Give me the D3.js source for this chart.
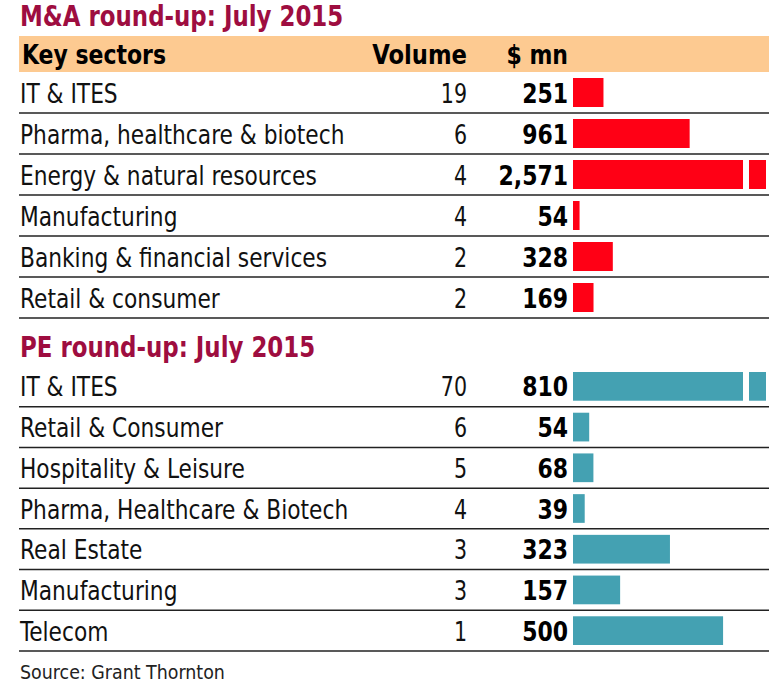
<!DOCTYPE html>
<html>
<head>
<meta charset="utf-8">
<script src="https://cdn.jsdelivr.net/npm/d3@7"></script>
<style>
  body { margin: 0; background: #fff; }
  text { font-family: "DejaVu Sans Condensed", "DejaVu Sans", sans-serif; }
</style>
</head>
<body>
<div id="chart"></div>
<script>
var maSectors = ["IT & ITES", "Pharma, healthcare & biotech", "Energy & natural resources",
  "Manufacturing", "Banking & financial services", "Retail & consumer"];
var maVolume = [19, 6, 4, 4, 2, 2];
var maValue = [251, 961, 2571, 54, 328, 169];

var peSectors = ["IT & ITES", "Retail & Consumer", "Hospitality & Leisure",
  "Pharma, Healthcare & Biotech", "Real Estate", "Manufacturing", "Telecom"];
var peVolume = [70, 6, 5, 4, 3, 3, 1];
var peValue = [810, 54, 68, 39, 323, 157, 500];

var width = 780, height = 683;
var left = 19, right = 769;
var volX = 467, valX = 568, barX = 573, barEnd = 766;

var svg = d3.select("#chart").append("svg")
  .attr("width", width)
  .attr("height", height);

// condensed text: squeeze horizontally around the anchor point
function label(sel, x, y, sx) {
  return sel.append("text")
    .attr("transform", "translate(" + x + "," + y + ") scale(" + sx + ",1)");
}

label(svg, 20, 26, 0.91)
  .attr("font-size", 28).attr("font-weight", "bold")
  .attr("fill", "#9e0d40")
  .text("M&A round-up: July 2015");

// header band
svg.append("rect")
  .attr("x", left).attr("y", 36)
  .attr("width", right - left).attr("height", 36)
  .attr("fill", "#fdca91");
label(svg, 22, 64, 0.94)
  .attr("font-size", 26).attr("font-weight", "bold").text("Key sectors");
label(svg, volX, 64, 0.97).attr("text-anchor", "end")
  .attr("font-size", 26).attr("font-weight", "bold").text("Volume");
label(svg, valX, 64, 0.94).attr("text-anchor", "end")
  .attr("font-size", 26).attr("font-weight", "bold").text("$ mn");

function drawSection(sectors, volume, value, y0, y1, maxVal, color) {
  var rows = sectors.map(function(s, i) { return {name: s, vol: volume[i], val: value[i]}; });
  var y = d3.scaleBand().domain(sectors).range([y0, y1]);
  var x = d3.scaleLinear().domain([0, maxVal]).range([0, barEnd - barX]).clamp(true);
  var gap = 6, stub = 17;
  var ty = y.bandwidth() / 2 + 10;

  var g = svg.append("g");
  var row = g.selectAll("g.row").data(rows).enter().append("g").attr("class", "row")
    .attr("transform", function(d) { return "translate(0," + y(d.name) + ")"; });

  row.append("line")
    .attr("x1", left).attr("x2", right)
    .attr("y1", y.bandwidth()).attr("y2", y.bandwidth())
    .attr("stroke", "#222").attr("stroke-width", 1.5);

  row.each(function(d) {
    var r = d3.select(this);
    label(r, 20, ty, 0.93)
      .attr("font-size", 26).attr("fill", "#111")
      .text(d.name);
    label(r, volX, ty, 0.88).attr("text-anchor", "end")
      .attr("font-size", 26).attr("fill", "#111")
      .text(d.vol);
    label(r, valX, ty, 0.94).attr("text-anchor", "end")
      .attr("font-size", 26).attr("font-weight", "bold").attr("fill", "#000")
      .text(d3.format(",")(d.val));
  });

  var bh = y.bandwidth() - 12;
  row.append("rect")
    .attr("x", barX).attr("y", 6)
    .attr("height", bh)
    .attr("width", function(d) {
      return d.val > maxVal ? x(maxVal) - stub - gap : x(d.val);
    })
    .attr("fill", color);

  // stub of broken bars that run off the scale
  row.filter(function(d) { return d.val > maxVal; })
    .append("rect")
    .attr("x", barX + x(maxVal) - stub).attr("y", 6)
    .attr("width", stub).attr("height", bh)
    .attr("fill", color);
}

drawSection(maSectors, maVolume, maValue, 72, 318, 1590, "#ff0015");

label(svg, 20, 357, 0.91)
  .attr("font-size", 28).attr("font-weight", "bold")
  .attr("fill", "#9e0d40")
  .text("PE round-up: July 2015");

drawSection(peSectors, peVolume, peValue, 366, 651, 643, "#44a1b2");

label(svg, 20, 679, 0.97)
  .attr("font-size", 20).attr("fill", "#222")
  .text("Source: Grant Thornton");
</script>
</body>
</html>
